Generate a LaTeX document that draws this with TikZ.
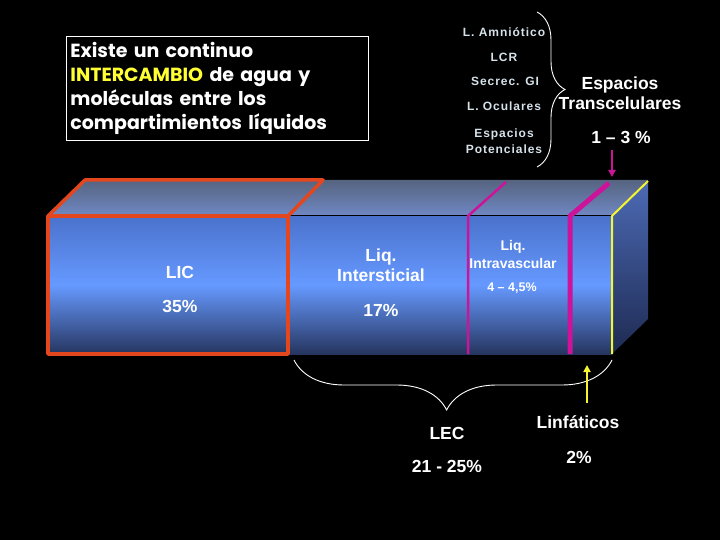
\documentclass[tikz,border=0pt]{standalone}
\usepackage{fontspec}
\setmainfont{Liberation Sans}
\newfontfamily\spacedfont[LetterSpace=8]{Liberation Sans}
\newfontfamily\comicfont{Poppins}
\usetikzlibrary{decorations.pathreplacing,arrows.meta}
\definecolor{redline}{HTML}{E4461E}
\definecolor{magline}{HTML}{CC1399}
\definecolor{yelline}{HTML}{F4F430}
\definecolor{txtyel}{HTML}{FFFF33}
\definecolor{graytxt}{HTML}{D6E2EA}
\definecolor{frontTop}{HTML}{4A72CC}
\definecolor{frontMid}{HTML}{6699FF}
\definecolor{frontBot}{HTML}{26355F}
\definecolor{topBack}{HTML}{566480}
\definecolor{topFront}{HTML}{7088C4}
\definecolor{sideTop}{HTML}{4C6AB4}
\definecolor{sideBot}{HTML}{1E2A52}
\tikzset{
  bigtxt/.style={text=white, font=\bfseries\fontsize{17.5}{20}\selectfont, align=center, inner sep=0pt},
  midtxt/.style={text=white, font=\bfseries\fontsize{14}{18}\selectfont, align=center, inner sep=0pt},
  smalltxt/.style={text=white, font=\bfseries\fontsize{12.5}{14}\selectfont, align=center, inner sep=0pt},
  graylbl/.style={text=graytxt, font=\spacedfont\bfseries\fontsize{12}{16}\selectfont, align=center, inner sep=0pt},
  brc/.style={draw=white, line width=0.9pt, decorate},
}
\begin{document}
\begin{tikzpicture}[x=1pt,y=-1pt]
\fill[black] (0,0) rectangle (720,540);
\useasboundingbox (0,0) rectangle (720,540);
% block faces
\shade[top color=topBack, bottom color=topFront] (48,216) -- (85,180) -- (648,180) -- (612,216) -- cycle;
\shade[top color=frontTop, bottom color=frontBot, middle color=frontMid] (48,216) rectangle (612,354);
\shade[top color=sideTop, bottom color=sideBot] (612,216) -- (648,181) -- (648,319) -- (612,354) -- cycle;
\draw[black, line width=1pt] (288,216) -- (612,216);
\draw[black, line width=1pt] (288,216) -- (288,354);
% compartments
\draw[redline, line width=3.5pt, line join=round] (48,216) rectangle (288,354);
\draw[redline, line width=3.5pt, line join=round] (48,216) -- (85,180) -- (323,180) -- (288,216);
\draw[magline, line width=2.5pt, line join=round] (468,354) -- (468,216) -- (506,182);
\draw[magline, line width=5pt, line join=round] (570,354) -- (570,216) -- (609,183);
\draw[yelline, line width=2pt, line join=round] (612,354) -- (612,216) -- (648,181);
% text box
\node[draw=white, line width=0.8pt, anchor=north west, minimum width=301pt, minimum height=104pt,
      text width=294pt, inner xsep=4pt, inner ysep=0pt, align=left, text=white,
      font=\comicfont\bfseries\fontsize{19}{24}\selectfont] (info) at (66,36)
  {Existe un continuo\\ \textcolor{txtyel}{INTERCAMBIO} de agua y\\ moléculas entre los\\ compartimientos líquidos};
% block labels
\node[bigtxt] (lic) at (180,272) {LIC};
\node[bigtxt] (licp) at (180,306) {35\%};
\node[bigtxt] (inter) at (381,265) {Liq.\\Intersticial};
\node[bigtxt] (interp) at (381,310) {17\%};
\node[midtxt] (intra) at (513,254) {Liq.\\Intravascular};
\node[smalltxt] (intrap) at (512,288) {4 – 4,5\%};
% transcellular
\node[graylbl] (amn) at (504,32) {L. Amniótico};
\node[graylbl] (lcr) at (504,57) {LCR};
\node[graylbl] (gi) at (505,81) {Secrec. GI};
\node[graylbl] (ocu) at (504,106) {L. Oculares};
\node[graylbl] (pot) at (504,141) {Espacios\\Potenciales};
\coordinate (bt) at (537,12);
\coordinate (bb) at (537,167);
\draw[brc, decoration={brace, amplitude=28pt}] (bt) -- (bb);
\node[bigtxt] (trans) at (620,93) {Espacios\\Transcelulares};
\node[bigtxt] (tpct) at (621,137) {1 – 3 \%};
\coordinate (ma1) at (612,150);
\coordinate (ma2) at (612,177);
\draw[magline, line width=2pt, -{Triangle[length=7pt,width=7pt]}] (ma1) -- (ma2);
% LEC
\coordinate (lb1) at (294,360);
\coordinate (lb2) at (612,360);
\draw[brc, decoration={brace, mirror, amplitude=50pt, aspect=0.48}] (lb1) -- (lb2);
\node[bigtxt] (lec) at (447,433) {LEC};
\node[bigtxt] (lecp) at (447,466) {21 - 25\%};
% lymph
\coordinate (ya1) at (587,403);
\coordinate (ya2) at (587,365);
\draw[yelline, line width=2pt, -{Triangle[length=7pt,width=7pt]}] (ya1) -- (ya2);
\node[bigtxt] (linf) at (578,422) {Linfáticos};
\node[bigtxt] (linfp) at (579,457) {2\%};
\end{tikzpicture}
\end{document}
